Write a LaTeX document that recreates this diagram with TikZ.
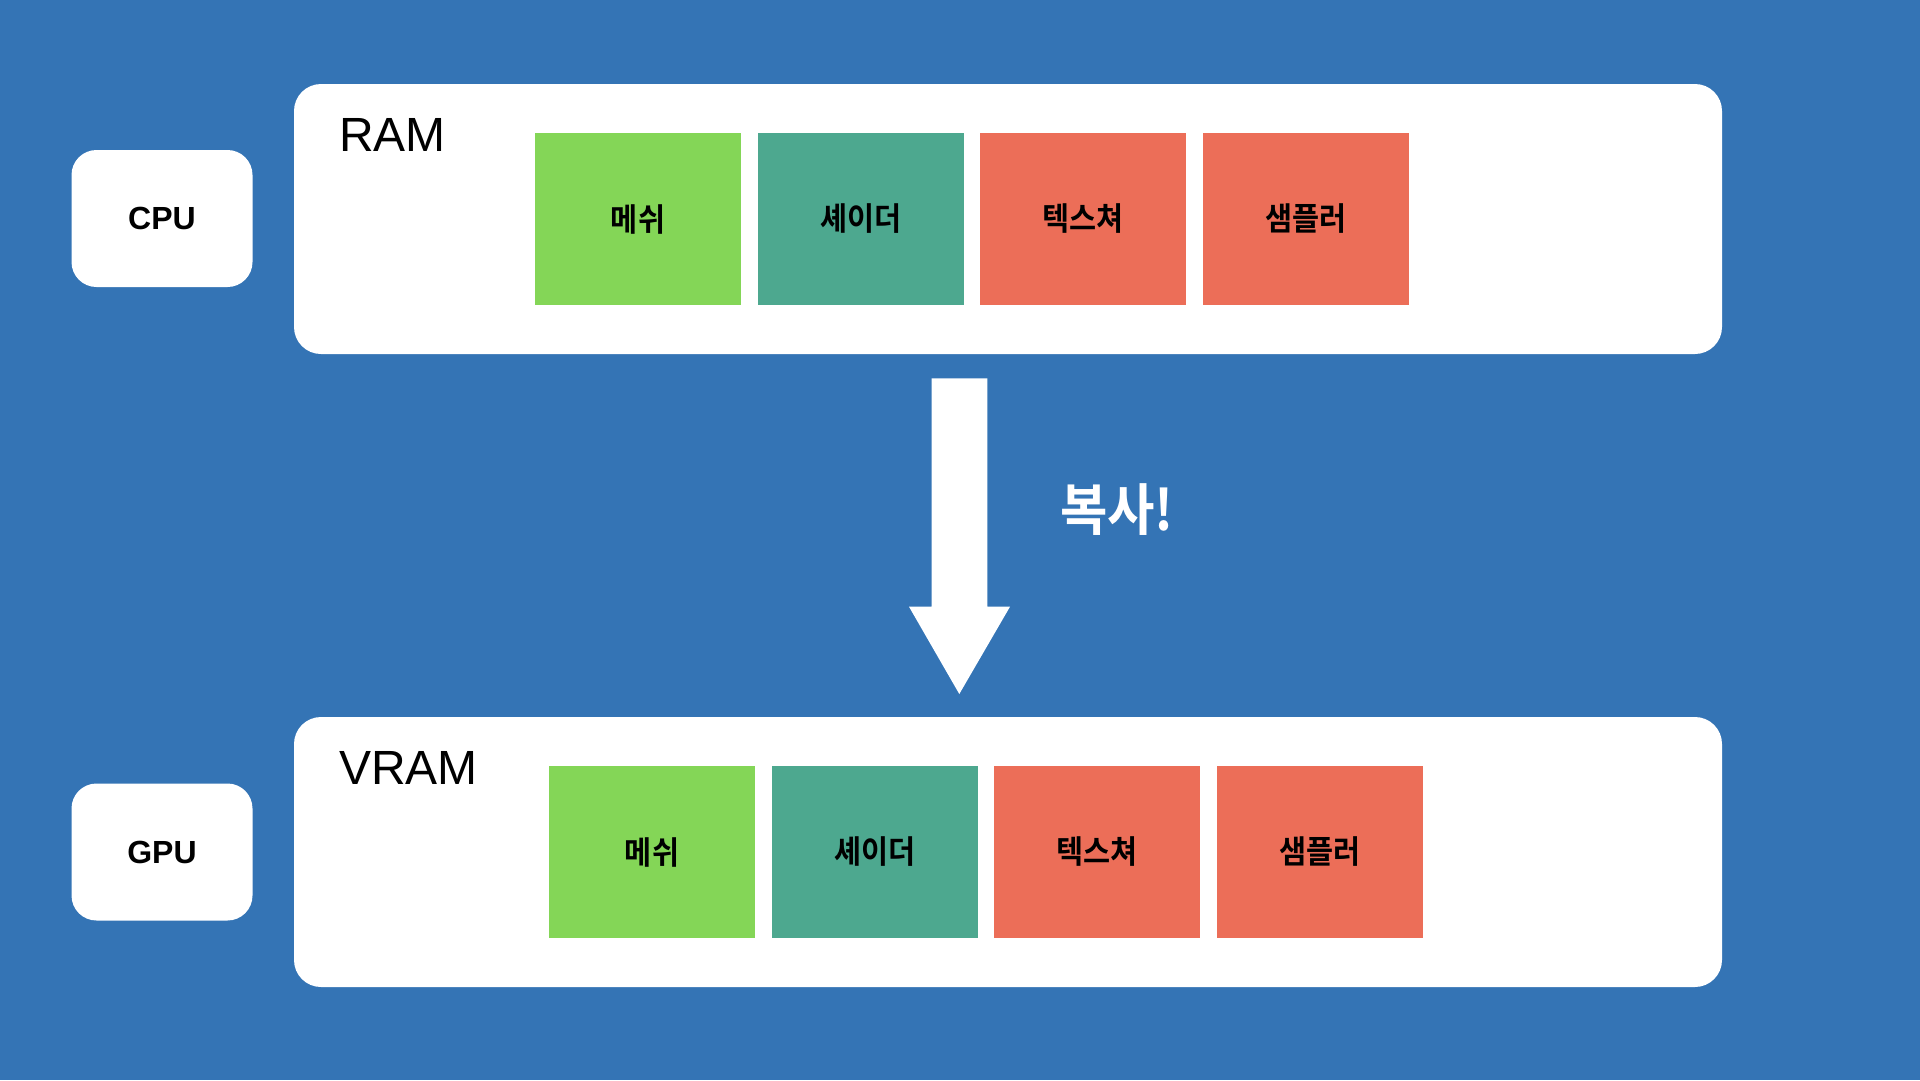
\documentclass[tikz,border=0pt]{standalone}
\usepackage{fontspec}
\setmainfont{Liberation Sans}
\newfontfamily\kr[FakeStretch=0.92,BoldFont={Noto Sans CJK KR Bold}]{Noto Sans CJK KR}
\definecolor{bgblue}{HTML}{3474B5}
\definecolor{meshgreen}{HTML}{84D657}
\definecolor{shadeteal}{HTML}{4DA88F}
\definecolor{texred}{HTML}{EC6E58}
\tikzset{
  panel/.style={fill=white, rounded corners=27pt, minimum width=1428pt, minimum height=270pt, inner sep=0pt},
  chip/.style={fill=white, rounded corners=25pt, minimum width=181pt, minimum height=137pt, inner sep=0pt, font=\fontsize{32}{38}\selectfont\bfseries},
  memblk/.style={minimum width=206pt, minimum height=172pt, inner sep=0pt, font=\kr\bfseries\fontsize{32}{38}\selectfont},
  paneltitle/.style={anchor=base west, inner sep=0pt, font=\fontsize{48}{56}\selectfont},
  copylabel/.style={text=white, inner sep=0pt, font=\kr\bfseries\fontsize{56}{64}\selectfont}
}
\begin{document}
\begin{tikzpicture}[x=1pt,y=-1pt]
\fill[bgblue] (0,0) rectangle (1920,1080);
\useasboundingbox (0,0) rectangle (1920,1080);

% top
\node[chip] (cpu) at (162,218.5) {CPU};
\node[panel] (ram) at (1008,219) {};
\node[paneltitle] (ramlbl) at (339,151) {RAM};
\node[memblk, fill=meshgreen] (rmesh) at (638,219) {메쉬};
\node[memblk, fill=shadeteal] (rshader) at (860.7,219) {셰이더};
\node[memblk, fill=texred] (rtex) at (1083.3,219) {텍스쳐};
\node[memblk, fill=texred] (rsamp) at (1306,219) {샘플러};

% bottom
\node[chip] (gpu) at (162,852) {GPU};
\node[panel] (vram) at (1008,852) {};
\node[paneltitle] (vramlbl) at (339,784) {VRAM};
\node[memblk, fill=meshgreen] (vmesh) at (652,852) {메쉬};
\node[memblk, fill=shadeteal] (vshader) at (874.7,852) {셰이더};
\node[memblk, fill=texred] (vtex) at (1097.3,852) {텍스쳐};
\node[memblk, fill=texred] (vsamp) at (1320,852) {샘플러};

% arrow
\fill[white] (931.7,378.3) -- (987.3,378.3) -- (987.3,606.7) -- (1010,606.7)
  -- (959.3,694) -- (909,606.7) -- (931.7,606.7) -- cycle;
\node[copylabel] (copy) at (1117,510) {복사!};
\end{tikzpicture}
\end{document}
